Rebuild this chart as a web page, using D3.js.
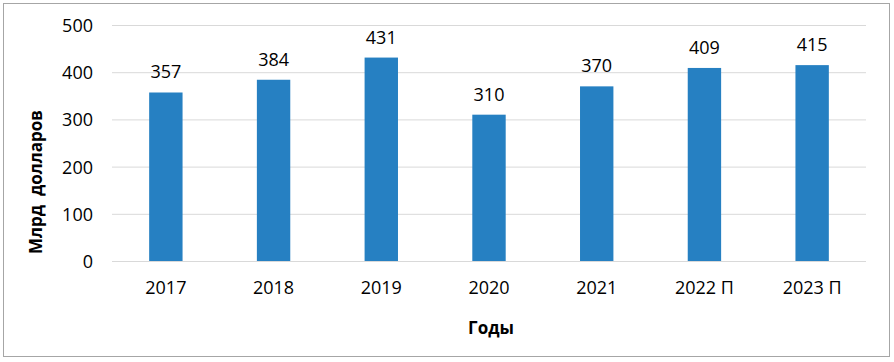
<!DOCTYPE html>
<html>
<head>
    <meta charset="utf-8">
    <style>
        body { margin: 0; background: #fff; }
        svg { display: block; font-family: 'Open Sans', sans-serif; }
        .grid line { stroke: #d9d9d9; stroke-width: 1px; }
        .grid .domain { display: none; }
        .axis .domain { display: none; }
        .axis .tick line { display: none; }
        .axis .tick text { font-size: 18px; fill: #000; font-family: 'Open Sans', sans-serif; }
    </style>
</head>
<body>
<svg width="894" height="362"></svg>
<script src="https://d3js.org/d3.v7.min.js"></script>
<script>
    // data
    let years = ["2017", "2018", "2019", "2020", "2021", "2022 П", "2023 П"]
    let values = [357, 384, 431, 310, 370, 409, 415]
    let yTicks = [0, 100, 200, 300, 400, 500]

    let svg = d3.select("svg")

    let margin = { top: 25, right: 28, bottom: 101, left: 112 }
    let width = 894, height = 362

    // outer frame
    svg.append("rect")
        .attr("x", 3.5).attr("y", 3.5)
        .attr("width", 886).attr("height", 353)
        .style("fill", "none")
        .style("stroke", "#a6a6a6")
        .style("stroke-width", "1px")

    let x = d3.scaleBand()
        .domain(years)
        .range([margin.left, width - margin.right])
        .paddingInner(0.69)
        .paddingOuter(0.345)

    let y = d3.scaleLinear()
        .domain([0, 500])
        .range([height - margin.bottom, margin.top])

    // horizontal gridlines
    svg.append("g")
        .attr("class", "grid")
        .attr("transform", `translate(${margin.left},0)`)
        .call(d3.axisRight(y).tickValues(yTicks).tickSize(width - margin.left - margin.right).tickFormat(""))

    // y axis labels
    svg.append("g")
        .attr("class", "axis")
        .attr("transform", `translate(${margin.left - 13},0)`)
        .call(d3.axisLeft(y).tickValues(yTicks).tickSize(0).tickPadding(6))
        .selectAll("text").attr("dy", "0.36em")

    // x axis labels
    svg.append("g")
        .attr("class", "axis")
        .attr("transform", `translate(0,${y(0)})`)
        .call(d3.axisBottom(x).tickSize(0).tickPadding(20))

    // bars
    svg.append("g")
        .selectAll("rect")
        .data(values)
        .join("rect")
        .attr("x", (d, i) => x(years[i]))
        .attr("width", x.bandwidth())
        .attr("y", d => y(d))
        .attr("height", d => y(0) - y(d))
        .style("fill", "#2680c2")

    // value labels
    svg.append("g")
        .selectAll("text")
        .data(values)
        .join("text")
        .attr("x", (d, i) => x(years[i]) + x.bandwidth() / 2)
        .attr("y", d => y(d) - 14)
        .attr("text-anchor", "middle")
        .style("font-size", "18px")
        .text(d => d)

    // axis titles
    svg.append("text")
        .attr("transform", "translate(42,182) rotate(-90)")
        .attr("text-anchor", "middle")
        .style("font-size", "17px")
        .style("font-weight", "bold")
        .style("white-space", "pre")
        .text("Млрд  долларов")

    svg.append("text")
        .attr("x", 491)
        .attr("y", 334)
        .attr("text-anchor", "middle")
        .style("font-size", "17px")
        .style("font-weight", "bold")
        .text("Годы")
</script>
</body>
</html>
